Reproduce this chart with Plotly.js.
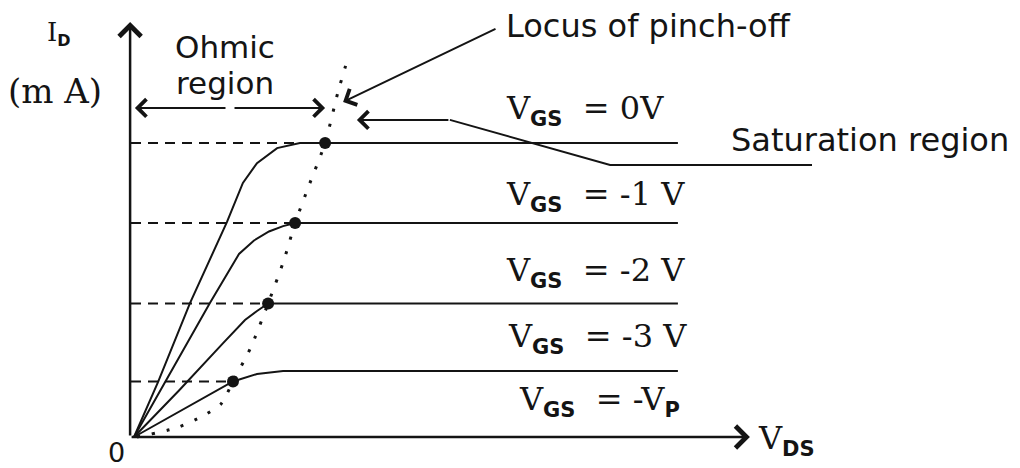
<!DOCTYPE html>
<html>
<head>
<meta charset="utf-8">
<script src="https://cdn.plot.ly/plotly-3.0.1.min.js"></script>
<style>html,body{margin:0;padding:0;background:#fff;}#chart{width:1020px;height:468px;}</style>
</head>
<body>
<div id="chart"></div>
<script>
// ---- data (V_DS, I_D in arbitrary schematic units) ----
const vgs0_x = [0.1, 0.9, 1.97, 3.2, 3.73, 4.2, 4.87, 5.63, 6.47, 18.23];
const vgs0_y = [0, 1.83, 4.47, 7.17, 8.47, 9.13, 9.63, 9.8, 9.8, 9.8];
const vgs1_x = [0.1, 1.13, 2.63, 3.6, 4.1, 4.6, 5.07, 5.47, 18.23];
const vgs1_y = [0, 1.83, 4.47, 6.1, 6.55, 6.85, 7.03, 7.13, 7.13];
const vgs2_x = [0.1, 1.6, 3.07, 3.8, 4.2, 4.57, 18.23];
const vgs2_y = [0, 1.55, 3.13, 3.9, 4.2, 4.45, 4.45];
const vgs3_x = [0.1, 3.4, 4.2, 5.07, 18.23];
const vgs3_y = [0, 1.85, 2.1, 2.2, 2.2];
const pinch_x = [6.47, 5.47, 4.57, 3.4];
const pinch_y = [9.8, 7.13, 4.45, 1.85];
const locus_x = [0.2, 1.5, 2.4, 3.0, 3.4, 4.0, 4.57, 5.1, 5.47, 5.9, 6.47, 6.9, 7.25];
const locus_y = [0, 0.3, 0.7, 1.1, 1.85, 3.0, 4.45, 5.9, 7.13, 8.3, 9.8, 11.5, 12.7];
const sat_x = [22.7, 15.97, 10.63];
const sat_y = [9.07, 9.07, 10.57];
const curveValues = ["0V", "-1 V", "-2 V", "-3 V", "-V"];
const curveValueSub = ["", "", "", "", "P"];
const labelX = [12.47, 12.47, 12.47, 12.53, 12.9];
const labelY = [10.9, 8.05, 5.5, 3.3, 1.2];

const INK = '#141414';
const subStyle = "font-family:'DejaVu Sans';font-weight:bold;font-size:21px";
const traces = [];
// dashed reference levels up to pinch-off points
for (let i = 0; i < pinch_x.length; i++) {
  traces.push({x: [0, pinch_x[i]], y: [pinch_y[i], pinch_y[i]], mode: 'lines',
    line: {color: INK, width: 2, dash: '10px,7px'}, hoverinfo: 'skip'});
}
[[vgs0_x, vgs0_y], [vgs1_x, vgs1_y], [vgs2_x, vgs2_y], [vgs3_x, vgs3_y]].forEach(c => {
  traces.push({x: c[0], y: c[1], mode: 'lines', line: {color: INK, width: 2}, hoverinfo: 'skip'});
});
traces.push({x: locus_x, y: locus_y, mode: 'lines', line: {color: INK, width: 3, dash: '3px,12px', shape: 'spline', smoothing: 0.6}, hoverinfo: 'skip'});
traces.push({x: pinch_x, y: pinch_y, mode: 'markers', marker: {color: INK, size: 12}, hoverinfo: 'skip'});
traces.push({x: sat_x, y: sat_y, mode: 'lines', line: {color: INK, width: 2}, hoverinfo: 'skip'});

const serif = 'DejaVu Serif, serif';
const sans = 'DejaVu Sans, sans-serif';
function arrow(x0, y0, x1, y1, w) {
  return {x: x1, y: y1, ax: x0, ay: y0, xref: 'x', yref: 'y', axref: 'x', ayref: 'y', text: '',
    showarrow: true, arrowhead: 4, arrowsize: 1.7, arrowwidth: w || 2, arrowcolor: INK, standoff: 0, startstandoff: 0};
}
function lbl(x, y, text, font, size, anchor) {
  return {x: x, y: y, text: text, xanchor: anchor || 'left', yanchor: 'middle', showarrow: false, borderpad: 0,
    font: {family: font, size: size, color: INK}};
}
function sub(t, style) {
  return t ? '<sub><span style="' + (style || subStyle) + '">' + t + '</span></sub>' : '';
}
const ann = [
  arrow(-0.03, 0, -0.03, 13.83, 2.5),
  arrow(-0.03, 0, 20.63, 0, 2.5),
  arrow(3.2, 10.97, 0.13, 10.97, 2),
  arrow(3.4, 10.97, 6.47, 10.97, 2),
  arrow(12.2, 13.63, 7.07, 11.17, 2),
  arrow(10.63, 10.57, 7.53, 10.57, 2),
  lbl(12.47, 13.7, 'Locus of pinch-off', sans, 32),
  lbl(3.13, 13.0, 'Ohmic', sans, 31, 'center'),
  lbl(3.13, 11.8, 'region', sans, 31, 'center'),
  lbl(19.97, 9.9, 'Saturation region', sans, 32),
  lbl(-0.5, -0.5, '0', sans, 27, 'center'),
  lbl(-2.85, 13.45, 'I' + sub('D', "font-family:'DejaVu Sans';font-weight:bold;font-size:16px"), serif, 26),
  lbl(-4.15, 11.55, '(m A)', serif, 34),
  lbl(20.85, -0.1, 'V' + sub('DS'), serif, 32)
];
for (let i = 0; i < curveValues.length; i++) {
  ann.push(lbl(labelX[i], labelY[i], 'V' + sub('GS') + '&nbsp; = ' + curveValues[i] + sub(curveValueSub[i]), serif, 32));
}

const layout = {
  width: 1020, height: 468,
  margin: {l: 0, r: 0, t: 0, b: 0},
  paper_bgcolor: '#ffffff', plot_bgcolor: '#ffffff',
  showlegend: false,
  xaxis: {range: [-131/30, 889/30], visible: false, showgrid: false, zeroline: false, fixedrange: true},
  yaxis: {range: [-31/30, 437/30], visible: false, showgrid: false, zeroline: false, fixedrange: true},
  annotations: ann
};
Plotly.newPlot('chart', traces, layout, {staticPlot: true, displayModeBar: false});
</script>
</body>
</html>
